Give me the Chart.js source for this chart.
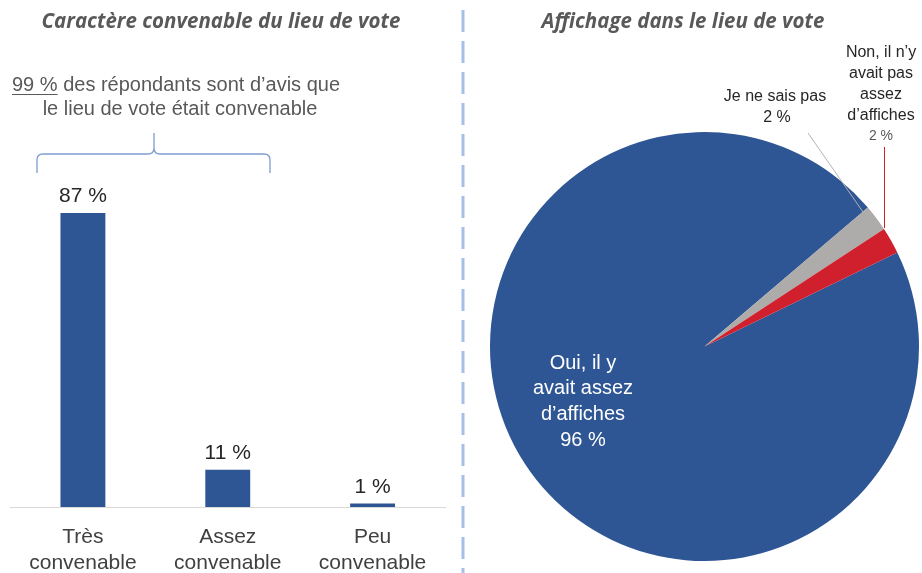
<!DOCTYPE html>
<html lang="fr">
<head>
<meta charset="utf-8">
<title>Lieu de vote</title>
<script src="https://cdn.jsdelivr.net/npm/chart.js@4.4.1/dist/chart.umd.min.js"></script>
<style>
  html, body { margin: 0; padding: 0; background: #fff; overflow: hidden; }
  #wrap { position: relative; width: 922px; height: 573px; }
  #barBox { position: absolute; left: 0; top: 0; width: 470px; height: 573px; }
  #pieBox { position: absolute; left: 470px; top: 0; width: 452px; height: 573px; }
</style>
</head>
<body>
<div id="wrap">
  <div id="barBox"><canvas id="barChart"></canvas></div>
  <div id="pieBox"><canvas id="pieChart"></canvas></div>
</div>
<script>
// bar chart data
const barCategories = [['Très', 'convenable'], ['Assez', 'convenable'], ['Peu', 'convenable']];
const barValues = [87, 11, 1];
const barTitle = 'Caractère convenable du lieu de vote';
const noteShare = '99 %';
const noteLines = [' des répondants sont d’avis que', 'le lieu de vote était convenable'];

// pie chart data
const pieLabels = ['Oui, il y avait assez d’affiches', 'Je ne sais pas', 'Non, il n’y avait pas assez d’affiches'];
const pieValues = [96, 2, 2];
const pieTitle = 'Affichage dans le lieu de vote';

const BLUE = '#2e5594';
const GREY_TEXT = '#595959';
const FONT = '"Liberation Sans", Arial, sans-serif';
const TITLE_FONT = 'italic bold 20.5px "Open Sans", sans-serif';

const barDecor = {
    id: 'barDecor',
    afterDraw(chart) {
        const ctx = chart.ctx;
        ctx.save();

        // title
        ctx.font = TITLE_FONT;
        ctx.fillStyle = GREY_TEXT;
        ctx.textAlign = 'center';
        ctx.textBaseline = 'middle';
        ctx.fillText(barTitle, 221, 22);

        // note above the brace
        ctx.font = '20px ' + FONT;
        ctx.textAlign = 'left';
        ctx.textBaseline = 'alphabetic';
        ctx.fillText(noteShare, 12, 91);
        const w = ctx.measureText(noteShare).width;
        ctx.fillText(noteLines[0], 12 + w, 91);
        ctx.strokeStyle = GREY_TEXT;
        ctx.lineWidth = 1;
        ctx.beginPath();
        ctx.moveTo(12, 94.5);
        ctx.lineTo(12 + w, 94.5);
        ctx.stroke();
        ctx.textAlign = 'center';
        ctx.fillText(noteLines[1], 180, 115);

        // brace
        ctx.strokeStyle = '#7f9dd1';
        ctx.lineWidth = 1.3;
        ctx.beginPath();
        ctx.moveTo(37, 173);
        ctx.lineTo(37, 160);
        ctx.quadraticCurveTo(37, 154, 43, 154);
        ctx.lineTo(148, 154);
        ctx.quadraticCurveTo(154, 154, 154, 148);
        ctx.lineTo(154, 133);
        ctx.moveTo(154, 148);
        ctx.quadraticCurveTo(154, 154, 160, 154);
        ctx.lineTo(264, 154);
        ctx.quadraticCurveTo(270, 154, 270, 160);
        ctx.lineTo(270, 173);
        ctx.stroke();

        // value labels
        const meta = chart.getDatasetMeta(0);
        ctx.font = '21px ' + FONT;
        ctx.fillStyle = '#262626';
        ctx.textAlign = 'center';
        ctx.textBaseline = 'alphabetic';
        meta.data.forEach((bar, i) => {
            ctx.fillText(barValues[i] + ' %', bar.x, bar.y - 11);
        });

        // dashed separator
        ctx.strokeStyle = '#a6bfe8';
        ctx.lineWidth = 3;
        ctx.setLineDash([22, 9]);
        ctx.beginPath();
        ctx.moveTo(463, 10);
        ctx.lineTo(463, 573);
        ctx.stroke();
        ctx.restore();
    }
};

new Chart(document.getElementById('barChart'), {
    type: 'bar',
    data: {
        labels: barCategories,
        datasets: [{
            data: barValues,
            backgroundColor: BLUE,
            categoryPercentage: 1,
            barPercentage: 0.31
        }]
    },
    options: {
        responsive: true,
        maintainAspectRatio: false,
        animation: false,
        layout: { padding: { left: 10.5, right: 25, top: 169, bottom: 0 } },
        scales: {
            y: { display: false, min: 0, max: 100 },
            x: {
                grid: { display: false, drawTicks: false },
                border: { display: true, color: '#d9d9d9', width: 1 },
                ticks: {
                    color: '#404040',
                    padding: 18,
                    font: { family: FONT, size: 21, lineHeight: 1.2 }
                },
                afterFit: (scale) => { scale.height = 66; }
            }
        },
        plugins: {
            legend: { display: false },
            tooltip: { enabled: false }
        }
    },
    plugins: [barDecor]
});

const pieDecor = {
    id: 'pieDecor',
    afterDraw(chart) {
        const ctx = chart.ctx;
        ctx.save();

        ctx.font = TITLE_FONT;
        ctx.fillStyle = GREY_TEXT;
        ctx.textAlign = 'center';
        ctx.textBaseline = 'middle';
        ctx.fillText(pieTitle, 213, 22);

        // big slice label (white, inside)
        ctx.font = '20px ' + FONT;
        ctx.fillStyle = '#ffffff';
        ['Oui, il y', 'avait assez', 'd’affiches', pieValues[0] + ' %'].forEach((t, i) => {
            ctx.fillText(t, 113, 363 + i * 25.7);
        });

        // "Je ne sais pas"
        ctx.font = '16px ' + FONT;
        ctx.fillStyle = '#262626';
        ctx.fillText(pieLabels[1], 305, 97);
        ctx.fillText(pieValues[1] + ' %', 307, 118);

        // "Non ..."
        ['Non, il n’y', 'avait pas', 'assez', 'd’affiches'].forEach((t, i) => {
            ctx.fillText(t, 411, 53 + i * 20.7);
        });
        ctx.font = '14px ' + FONT;
        ctx.fillStyle = GREY_TEXT;
        ctx.fillText(pieValues[2] + ' %', 411, 136);

        // leader lines
        ctx.lineWidth = 1;
        ctx.strokeStyle = '#b3b3b3';
        ctx.beginPath();
        ctx.moveTo(338, 133);
        ctx.lineTo(393, 212);
        ctx.stroke();
        ctx.strokeStyle = '#d0202e';
        ctx.beginPath();
        ctx.moveTo(414.5, 147);
        ctx.lineTo(414.5, 228);
        ctx.stroke();
        ctx.restore();
    }
};

new Chart(document.getElementById('pieChart'), {
    type: 'pie',
    data: {
        labels: pieLabels,
        datasets: [{
            data: pieValues,
            backgroundColor: [BLUE, '#aeabab', '#d0202e'],
            borderWidth: 0
        }]
    },
    options: {
        responsive: true,
        maintainAspectRatio: false,
        animation: false,
        rotation: 64,
        layout: { padding: { left: 20, right: 3, top: 132, bottom: 12 } },
        plugins: {
            legend: { display: false },
            tooltip: { enabled: false }
        }
    },
    plugins: [pieDecor]
});
</script>
</body>
</html>
